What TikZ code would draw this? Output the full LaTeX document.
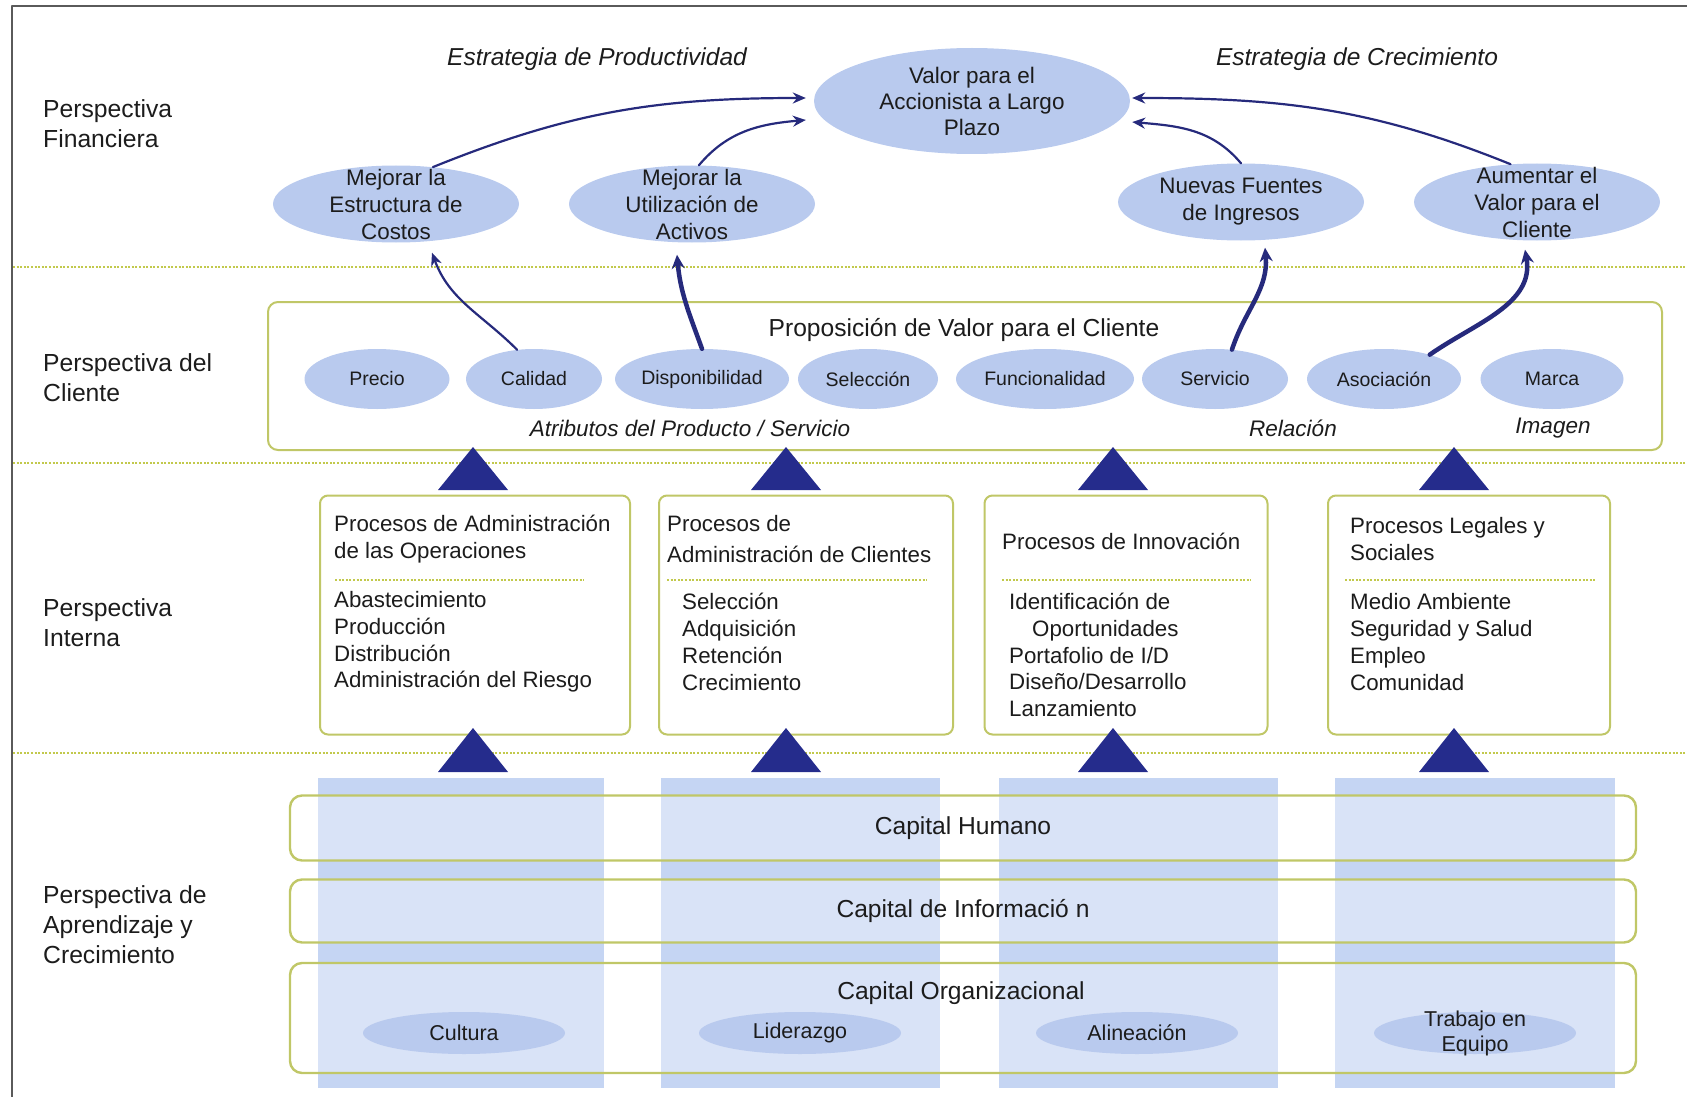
\documentclass[tikz,border=0pt]{standalone}
\usepackage{fontspec}
\setmainfont{Liberation Sans}
\usepackage{tikz}
\usetikzlibrary{arrows.meta,positioning,calc,shapes.geometric}
\definecolor{navy}{HTML}{262A7C}
\definecolor{trinavy}{HTML}{252C8C}
\definecolor{ellblue}{HTML}{B9CAEE}
\definecolor{colblue}{HTML}{C5D5F3}
\definecolor{olive}{HTML}{C0C767}
\definecolor{sepgreen}{HTML}{C2C94C}
\definecolor{ink}{HTML}{1C1C1C}
\definecolor{framegray}{HTML}{5A5A5A}
\newcommand\setfs[2]{\fontsize{#1}{#2}\selectfont}
\tikzset{
    every picture/.style={line cap=round,line join=round},
    persp/.style={anchor=west,align=left,text=ink,inner sep=0pt,font=\setfs{24.7}{30}},
    stratlabel/.style={text=ink,inner sep=0pt,font=\itshape\setfs{24.5}{29}},
    valnode/.style={ellipse,fill=ellblue,minimum width=316pt,minimum height=106pt,
      inner xsep=-20pt,inner ysep=-30pt,align=center,text=ink,font=\setfs{22.5}{26}},
    objnode/.style={ellipse,fill=ellblue,minimum width=246pt,minimum height=77pt,
      inner xsep=-30pt,inner ysep=-40pt,align=center,text=ink,font=\setfs{22.4}{27}},
    attrnode/.style={ellipse,fill=ellblue,minimum height=60pt,
      inner xsep=-10pt,inner ysep=-5pt,text=ink,font=\setfs{19.5}{23}},
    attrcap/.style={text=ink,inner sep=0pt,font=\itshape\setfs{22.5}{26}},
    propbox/.style={draw=olive,line width=2pt,rounded corners=10pt,fill=white,
      minimum width=1394pt,minimum height=148pt,inner sep=0pt},
    titletext/.style={text=ink,inner sep=0pt,font=\setfs{24.6}{29}},
    procbox/.style={draw=olive,line width=2pt,rounded corners=8pt,fill=white,
      minimum height=239pt,inner sep=0pt},
    proctext/.style={anchor=west,align=left,text=ink,inner sep=0pt,font=\setfs{22.3}{26.8}},
    capbox/.style={draw=olive,line width=2.4pt,rounded corners=12pt,fill=white,
      fill opacity=0.35,text opacity=1,minimum width=1346pt,inner sep=0pt,
      text=ink,font=\setfs{24.6}{29}},
    capell/.style={ellipse,fill=ellblue,minimum width=202pt,minimum height=42pt,
      inner xsep=-10pt,inner ysep=-20pt,align=center,text=ink,font=\setfs{21.5}{25}},
    sepline/.style={draw=sepgreen,line width=2.4pt,line cap=butt,dash pattern=on 2pt off 1.6pt},
    innerline/.style={draw=sepgreen,line width=2.2pt,line cap=butt,dash pattern=on 2pt off 1.6pt},
    thinarrow/.style={-{Stealth[length=13pt,width=11pt]},draw=navy,line width=2.2pt},
    thickarrow/.style={-{Stealth[length=14pt,width=13pt]},draw=navy,line width=4.5pt}
}
\begin{document}
\begin{tikzpicture}[x=1pt,y=-1pt]
    \useasboundingbox (0,0) rectangle (1687,1097);
    \draw[framegray,line width=1.5pt,line cap=butt] (12,1097) -- (12,6) -- (1687,6);

    % bands
    \foreach \y in {267,463,753}
        \draw[sepline] (13,\y) -- (1687,\y);

    \node[persp] (pfin) at (43,124) {Perspectiva\\Financiera};
    \node[persp] (pcli) at (43,378) {Perspectiva del\\Cliente};
    \node[persp] (pint) at (43,623) {Perspectiva\\Interna};
    \node[persp] (papr) at (43,925) {Perspectiva de\\Aprendizaje y\\Crecimiento};

    % financial perspective
    \node[stratlabel] (eprod) at (597,59) {Estrategia de Productividad};
    \node[stratlabel] (ecrec) at (1357,59) {Estrategia de Crecimiento};
    \node[valnode] (valor) at (972,101) {Valor para el\\Accionista a Largo\\Plazo};
    \node[objnode] (costos) at (396,204) {Mejorar la\\Estructura de\\Costos};
    \node[objnode] (activos) at (692,204) {Mejorar la\\Utilización de\\Activos};
    \node[objnode] (ingresos) at (1241,202) {Nuevas Fuentes\\de Ingresos};
    \node[objnode] (valcli) at (1537,202) {Aumentar el\\Valor para el\\Cliente};
    \draw[thinarrow] (costos.45) to[out=22,in=180] ($(valor.west)+(-8,-3)$);
    \draw[thinarrow] (activos.80) to[out=50,in=185] ($(valor.west)+(-8,19)$);
    \draw[thinarrow] (ingresos.north) to[out=130,in=-5] ($(valor.east)+(2,21)$);
    \draw[thinarrow] (valcli.125) to[out=158,in=0] ($(valor.east)+(2,-3)$);

    % customer perspective
    \node[propbox] (prop) at (965,376) {};
    \node[titletext] (proptitle) at (964,330) {Proposición de Valor para el Cliente};
    \node[attrnode,minimum width=145pt] (precio) at (377,379) {Precio};
    \node[attrnode,minimum width=136pt] (calidad) at (534,379) {Calidad};
    \node[attrnode,minimum width=174pt] (dispon) at (702,379) {Disponibilidad};
    \node[attrnode,minimum width=140pt] (selec) at (868,379) {Selección};
    \node[attrnode,minimum width=178pt] (funcion) at (1045,379) {Funcionalidad};
    \node[attrnode,minimum width=146pt] (servicio) at (1215,379) {Servicio};
    \node[attrnode,minimum width=154pt] (asoc) at (1384,379) {Asociación};
    \node[attrnode,minimum width=143pt] (marca) at (1552,379) {Marca};
    \node[attrcap] (atrib) at (690,428) {Atributos del Producto / Servicio};
    \node[attrcap] (relac) at (1293,428) {Relación};
    \node[attrcap] (imagen) at (1553,428) {Imagen};
    \draw[thinarrow] (calidad.120) to[out=135,in=-70] ($(costos.south)+(36,10)$);
    \draw[thickarrow] (dispon.north) to[out=110,in=-85] ($(activos.south)+(-15,12)$);
    \draw[thickarrow] (servicio.60) to[out=72,in=-85] ($(ingresos.south)+(24,7)$);
    \draw[thickarrow] (asoc.28) to[out=35,in=-80] ($(valcli.south)+(-12,9)$);

    % internal perspective
    \node[procbox,minimum width=310pt] (pops) at (475,615) {};
    \node[procbox,minimum width=294pt] (pcli) at (806,615) {};
    \node[procbox,minimum width=283pt] (pinn) at (1126,615) {};
    \node[procbox,minimum width=282pt] (pleg) at (1469,615) {};
    \node[proctext] (opshead) at (334,539) {Procesos de Administración\\de las Operaciones};
    \node[proctext] (opsitems) at (334,642) {Abastecimiento\\Producción\\Distribución\\Administración del Riesgo};
    \node[proctext,font=\setfs{22.3}{31}] (clihead) at (667,539) {Procesos de\\Administración de Clientes};
    \node[proctext] (cliitems) at (682,642) {Selección\\Adquisición\\Retención\\Crecimiento};
    \node[proctext] (innhead) at (1002,541) {Procesos de Innovación};
    \node[proctext] (innitems) at (1009,655) {Identificación de\\\hspace*{23pt}Oportunidades\\Portafolio de I/D\\Diseño/Desarrollo\\Lanzamiento};
    \node[proctext] (leghead) at (1350,539) {Procesos Legales y\\Sociales};
    \node[proctext] (legitems) at (1350,642) {Medio Ambiente\\Seguridad y Salud\\Empleo\\Comunidad};
    \draw[innerline] (335,580) -- (584,580);
    \draw[innerline] (667,580) -- (927,580);
    \draw[innerline] (1002,580) -- (1251,580);
    \draw[innerline] (1345,580) -- (1596,580);

    \foreach \x in {473,786,1113,1454} {
        \fill[trinavy] (\x-35,490) -- (\x,447) -- (\x+35,490) -- cycle;
        \fill[trinavy] (\x-35,772) -- (\x,728) -- (\x+35,772) -- cycle;
    }

    % learning and growth
    \foreach \l/\r in {318/604,661/940,999/1278,1335/1615}
        \fill[colblue] (\l,778) rectangle (\r,1088);
    \node[capbox,minimum height=65pt] (chum) at (963,828) {Capital Humano};
    \node[capbox,minimum height=63pt] (cinf) at (963,911) {Capital de Informació n};
    \node[capbox,minimum height=110pt] (corg) at (963,1018) {};
    \node[titletext] (corgtitle) at (961,993) {Capital Organizacional};
    \node[capell] (cultura) at (464,1033) {Cultura};
    \node[capell] (lider) at (800,1033) {Liderazgo};
    \node[capell] (alinea) at (1137,1033) {Alineación};
    \node[capell] (equipo) at (1475,1033) {Trabajo en\\Equipo};
\end{tikzpicture}
\end{document}
